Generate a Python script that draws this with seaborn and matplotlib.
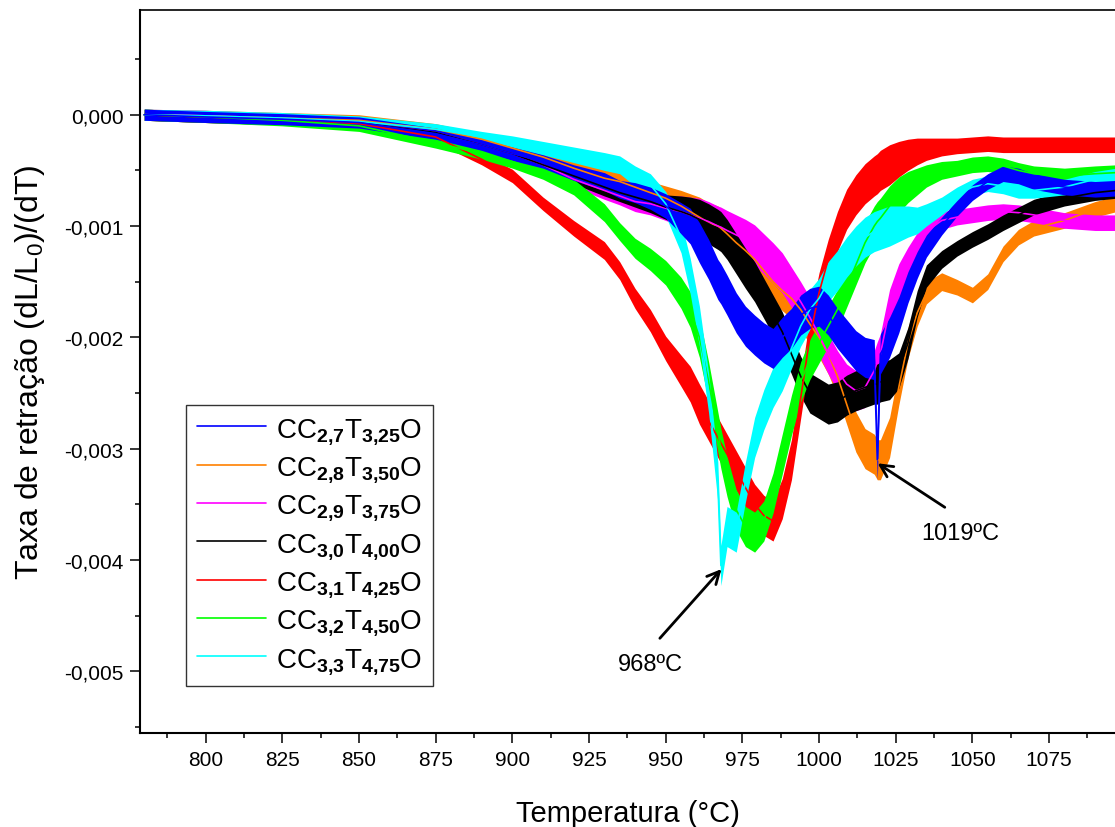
import numpy as np
import seaborn as sns
import matplotlib.pyplot as plt
from matplotlib.ticker import MultipleLocator, FuncFormatter

# Temperature grid (°C) and shrinkage rate values (x 1e-3)
temps = [780, 800, 825, 850, 875, 890, 900, 910, 920, 930, 935, 940, 945, 950,
         955, 958, 961, 964, 967, 968, 970, 973, 976, 979, 982, 985, 988, 991,
         994, 997, 1000, 1003, 1006, 1009, 1012, 1015, 1018, 1019, 1020, 1023,
         1026, 1029, 1032, 1035, 1040, 1045, 1050, 1055, 1060, 1065, 1070, 1080,
         1090, 1097]

cc27 = [0, -0.02, -0.04, -0.07, -0.17, -0.27, -0.35, -0.42, -0.52, -0.60, -0.67,
        -0.70, -0.75, -0.82, -0.93, -1.00, -1.15, -1.30, -1.48, -1.52, -1.62,
        -1.78, -1.90, -1.98, -2.05, -2.10, -2.00, -1.92, -1.80, -1.74, -1.72,
        -1.80, -1.92, -2.02, -2.12, -2.18, -2.20, -3.10, -2.15, -2.00, -1.80,
        -1.55, -1.35, -1.18, -1.00, -0.84, -0.70, -0.60, -0.53, -0.55, -0.60,
        -0.65, -0.67, -0.66]
cc28 = [0, -0.01, -0.03, -0.05, -0.13, -0.22, -0.30, -0.38, -0.48, -0.57, -0.60,
        -0.65, -0.70, -0.75, -0.82, -0.87, -0.92, -0.97, -1.00, -1.02, -1.07,
        -1.15, -1.22, -1.30, -1.40, -1.50, -1.58, -1.65, -1.75, -1.88, -2.00,
        -2.15, -2.35, -2.60, -2.85, -3.00, -3.05, -3.10, -3.10, -2.90, -2.45,
        -2.05, -1.78, -1.60, -1.50, -1.55, -1.62, -1.50, -1.25, -1.10, -1.02,
        -0.95, -0.85, -0.80]
cc29 = [0, -0.01, -0.04, -0.07, -0.16, -0.27, -0.35, -0.45, -0.58, -0.68, -0.73,
        -0.78, -0.80, -0.84, -0.87, -0.90, -0.93, -0.96, -1.00, -1.01, -1.04,
        -1.08, -1.12, -1.17, -1.25, -1.33, -1.42, -1.55, -1.68, -1.82, -1.98,
        -2.15, -2.30, -2.42, -2.48, -2.45, -2.30, -2.22, -2.15, -1.75, -1.50,
        -1.33, -1.18, -1.05, -0.95, -0.92, -0.90, -0.88, -0.87, -0.88, -0.90,
        -0.95, -0.97, -0.97]
cc30 = [0, -0.02, -0.04, -0.07, -0.16, -0.27, -0.35, -0.45, -0.55, -0.65, -0.70,
        -0.74, -0.78, -0.83, -0.87, -0.90, -0.94, -0.98, -1.03, -1.05, -1.12,
        -1.25, -1.38, -1.50, -1.65, -1.80, -1.95, -2.15, -2.35, -2.50, -2.55,
        -2.60, -2.58, -2.52, -2.48, -2.45, -2.42, -2.42, -2.40, -2.38, -2.30,
        -2.05, -1.70, -1.45, -1.30, -1.20, -1.12, -1.05, -0.97, -0.90, -0.83,
        -0.75, -0.70, -0.68]
cc31 = [0, -0.02, -0.04, -0.08, -0.20, -0.40, -0.55, -0.80, -1.02, -1.22, -1.40,
        -1.65, -1.85, -2.10, -2.30, -2.42, -2.60, -2.75, -2.90, -2.95, -3.05,
        -3.20, -3.35, -3.50, -3.60, -3.65, -3.45, -3.10, -2.55, -2.00, -1.60,
        -1.30, -1.05, -0.85, -0.72, -0.62, -0.55, -0.53, -0.50, -0.45, -0.40,
        -0.36, -0.33, -0.31, -0.29, -0.28, -0.27, -0.26, -0.27, -0.27, -0.27,
        -0.27, -0.27, -0.27]
cc32 = [0, -0.02, -0.05, -0.10, -0.25, -0.35, -0.42, -0.52, -0.65, -0.88, -1.05,
        -1.20, -1.30, -1.42, -1.60, -1.75, -2.00, -2.40, -2.85, -3.00, -3.25,
        -3.55, -3.70, -3.75, -3.65, -3.40, -3.05, -2.70, -2.40, -2.20, -2.05,
        -1.90, -1.75, -1.55, -1.35, -1.15, -1.00, -0.96, -0.93, -0.82, -0.72,
        -0.65, -0.60, -0.55, -0.50, -0.48, -0.45, -0.44, -0.46, -0.50, -0.53,
        -0.55, -0.53, -0.52]
cc33 = [0, -0.01, -0.03, -0.06, -0.13, -0.20, -0.25, -0.30, -0.36, -0.42, -0.45,
        -0.55, -0.63, -0.80, -1.10, -1.45, -1.90, -2.50, -3.30, -4.05, -3.70,
        -3.75, -3.30, -2.90, -2.65, -2.45, -2.30, -2.10, -1.90, -1.75, -1.65,
        -1.50, -1.40, -1.28, -1.18, -1.10, -1.05, -1.04, -1.03, -1.00, -0.98,
        -0.96, -0.95, -0.90, -0.82, -0.72, -0.65, -0.62, -0.64, -0.68, -0.68,
        -0.65, -0.58, -0.55]

# half width of the noisy band (x 1e-3)
noise = [0.05, 0.05, 0.05, 0.05, 0.05, 0.05, 0.06, 0.06, 0.07, 0.08, 0.08,
         0.09, 0.10, 0.11, 0.14, 0.16, 0.18, 0.18, 0.18, 0.18, 0.18, 0.18,
         0.18, 0.18, 0.18, 0.18, 0.18, 0.18, 0.18, 0.18, 0.18, 0.18, 0.18,
         0.18, 0.18, 0.18, 0.18, 0.18, 0.18, 0.18, 0.16, 0.14, 0.12, 0.10,
         0.08, 0.07, 0.07, 0.07, 0.07, 0.07, 0.07, 0.07, 0.07, 0.07]

series = [cc27, cc28, cc29, cc30, cc31, cc32, cc33]
labels = [r"CC$_{\mathbf{2{,}7}}$T$_{\mathbf{3{,}25}}$O",
          r"CC$_{\mathbf{2{,}8}}$T$_{\mathbf{3{,}50}}$O",
          r"CC$_{\mathbf{2{,}9}}$T$_{\mathbf{3{,}75}}$O",
          r"CC$_{\mathbf{3{,}0}}$T$_{\mathbf{4{,}00}}$O",
          r"CC$_{\mathbf{3{,}1}}$T$_{\mathbf{4{,}25}}$O",
          r"CC$_{\mathbf{3{,}2}}$T$_{\mathbf{4{,}50}}$O",
          r"CC$_{\mathbf{3{,}3}}$T$_{\mathbf{4{,}75}}$O"]
colors = ["#0000ff", "#ff8000", "#ff00ff", "#000000", "#ff0000", "#00ff00", "#00ffff"]
draw_order = [1, 2, 3, 4, 5, 6, 0]


def main():
    sns.set_style("ticks")
    plt.rcParams['font.family'] = ['Liberation Sans', 'DejaVu Sans']
    plt.rcParams['text.color'] = 'black'
    plt.rcParams['axes.labelcolor'] = 'black'
    plt.rcParams['mathtext.fontset'] = 'custom'
    plt.rcParams['mathtext.rm'] = 'Liberation Sans'
    plt.rcParams['mathtext.bf'] = 'Liberation Sans:bold'
    plt.rcParams['mathtext.it'] = 'Liberation Sans:italic'

    fig = plt.figure(figsize=(11.15, 8.28), dpi=100)
    ax = fig.add_axes([140 / 1115, 94 / 828, 975 / 1115, 723 / 828])

    t = np.array(temps)
    w = np.array(noise) * 1e-3
    handles = {}
    for i in draw_order:
        y = np.array(series[i]) * 1e-3
        ax.fill_between(t, y - w, y + w, color=colors[i], lw=0)
        sns.lineplot(x=t, y=y, color=colors[i], lw=1.2, ax=ax, legend=False)
        handles[i] = ax.lines[-1]

    ax.set_xlim(778.6, 1096.5)
    ax.set_ylim(-0.005555, 0.000941)

    ax.xaxis.set_major_locator(MultipleLocator(25))
    ax.xaxis.set_minor_locator(MultipleLocator(12.5))
    ax.yaxis.set_major_locator(MultipleLocator(0.001))
    ax.yaxis.set_minor_locator(MultipleLocator(0.0005))

    def yfmt(v, pos):
        s = f"{v:.3f}".replace(".", ",")
        return "0,000" if abs(v) < 1e-9 else s
    ax.yaxis.set_major_formatter(FuncFormatter(yfmt))

    ax.tick_params(which="major", direction="out", length=7, width=1.1,
                   labelsize=15, color="black", labelcolor="black", pad=5)
    ax.tick_params(which="minor", direction="out", length=3.6, width=1.1, color="black")
    ax.tick_params(axis="x", which="both", top=False)
    ax.tick_params(axis="y", which="both", right=False)

    for side in ["left", "bottom", "top"]:
        ax.spines[side].set_color("black")
        ax.spines[side].set_linewidth(1.5)
    ax.spines["top"].set_linewidth(1.2)
    ax.spines["right"].set_visible(False)

    ax.set_xlabel("Temperatura (°C)", fontsize=21, labelpad=22)
    ax.set_ylabel(r"Taxa de retração (dL/L$_0$)/(dT)", fontsize=23, labelpad=12)

    # annotations of the peak temperatures
    ax.annotate("", xy=(968.2, -0.004082), xytext=(948.1, -0.004704),
                arrowprops=dict(arrowstyle="->", lw=2, color="black",
                                mutation_scale=22, shrinkA=0, shrinkB=0))
    ax.text(944.9, -0.004935, "968ºC", fontsize=17, ha="center", va="center")
    ax.annotate("", xy=(1019.1, -0.003132), xytext=(1041.0, -0.003527),
                arrowprops=dict(arrowstyle="->", lw=2, color="black",
                                mutation_scale=22, shrinkA=0, shrinkB=0))
    ax.text(1045.9, -0.003758, "1019ºC", fontsize=17, ha="center", va="center")

    leg = ax.legend([handles[i] for i in range(7)], labels,
                    loc="upper left", bbox_to_anchor=(0.0472, 0.4537),
                    borderaxespad=0, fontsize=20, frameon=True, fancybox=False,
                    edgecolor="#333333", framealpha=1, handlelength=2.5,
                    handletextpad=0.36, labelspacing=0.3, borderpad=0.38)
    leg.get_frame().set_linewidth(1.0)
    for line in leg.get_lines():
        line.set_linewidth(1.2)

    fig.savefig("out.png", dpi=100)


if __name__ == "__main__":
    main()
